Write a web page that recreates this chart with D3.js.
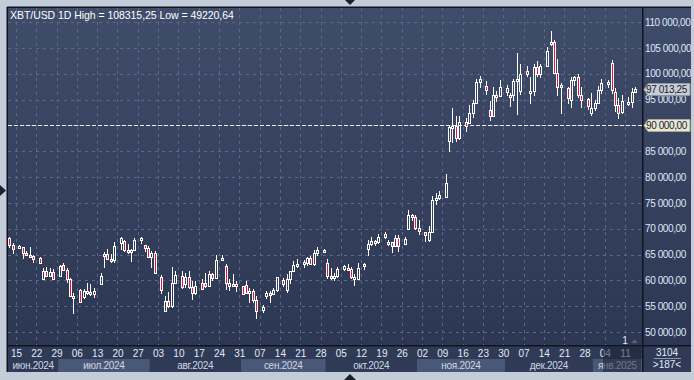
<!DOCTYPE html>
<html><head><meta charset="utf-8">
<script src="https://cdn.jsdelivr.net/npm/d3@7"></script>
<style>
html,body{margin:0;padding:0;background:#c3cdd9;}
svg{display:block;font-family:"Liberation Sans",Arial,sans-serif;}
</style></head>
<body><svg id="chart" width="694" height="380"></svg>
<script>
// ---- DATA: one candle per weekday (Mon..Fri), 13 Jun 2024 .. 15 Jan 2025, prices in thousands USD ----
const firstDay = "2024-06-13", lastDay = "2025-01-15";
const openK = [
68.2,66.8,
66.2,66.5,65.2,64.9,64.8,
64.3,60.3,61.8,60.9,61.6,
60.9,62.9,62.0,60.2,57.0,
58.2,56.7,57.9,57.7,57.3,
59.2,64.8,65.1,64.1,63.9,
67.2,67.6,65.9,65.4,65.8,
68.0,66.8,66.2,64.6,65.3,
60.7,54.0,56.0,55.0,59.5,
60.9,59.3,60.6,58.7,57.5,
59.5,59.4,59.0,61.2,60.4,
64.2,62.8,59.4,59.0,59.3,
58.9,59.1,57.5,58.0,56.2,
54.2,57.0,57.6,57.3,58.1,
60.0,58.2,60.3,61.8,62.9,
63.4,63.3,64.3,63.1,65.2,
65.9,63.3,60.8,60.6,60.8,
62.1,62.3,62.2,60.6,60.3,
63.2,66.0,67.0,67.6,67.4,
68.4,67.4,67.4,66.7,68.2,
67.0,69.9,72.7,72.3,70.2,
69.3,67.8,69.4,75.6,75.9,
76.2,87.0,89.7,89.9,87.6,
90.6,90.5,92.3,94.3,98.3,
97.7,93.0,91.9,95.9,95.6,
96.4,95.9,95.9,98.6,96.6,
100.5,96.2,96.7,101.2,100.0,
101.4,106.1,106.1,100.2,97.5,
97.2,94.9,98.7,99.3,95.8,
95.1,92.4,93.4,94.4,96.9,
98.2,102.1,96.5,93.9,92.5,
94.5,94.5,96.5];
const highK = [
68.4,67.3,
66.9,66.5,65.7,66.4,65.0,
64.5,62.3,62.5,62.3,62.2,
63.0,63.3,62.3,60.5,57.5,
58.3,58.3,59.4,59.3,58.5,
61.4,65.4,66.1,65.1,67.4,
68.4,67.8,67.1,66.1,68.2,
68.3,66.9,66.7,65.6,65.6,
61.1,57.0,57.7,62.6,61.9,
61.8,61.5,61.8,59.8,59.8,
60.2,61.4,61.8,61.4,64.9,
65.0,63.2,60.2,61.2,59.9,
59.0,59.8,58.5,58.3,56.9,
55.3,58.0,57.9,58.6,60.6,
60.4,61.3,61.8,63.8,64.1,
64.0,64.6,64.8,65.8,66.5,
66.0,64.1,62.4,61.5,62.5,
63.0,63.2,62.5,61.3,63.4,
63.3,67.9,68.4,67.9,68.9,
69.4,67.8,67.4,68.8,68.8,
68.3,73.6,72.9,72.7,71.6,
69.4,70.5,76.4,76.9,77.2,
80.6,89.9,93.4,91.8,91.9,
91.5,94.0,94.9,98.9,99.6,
98.6,94.7,97.4,96.6,98.7,
97.9,96.3,99.0,104.0,101.9,
101.4,99.3,101.9,102.5,101.9,
105.2,108.315,106.5,102.8,98.1,
97.4,99.4,99.5,99.9,97.5,
95.2,96.2,94.9,97.7,98.9,
98.8,102.7,97.2,95.3,95.8,
95.4,97.3,97.4];
const lowK = [
66.3,65.1,
66.0,64.1,64.7,64.5,63.4,
63.2,60.2,60.7,60.6,60.0,
60.6,61.8,59.4,56.8,53.5,
55.8,56.3,57.2,57.0,56.6,
59.2,62.4,63.9,63.3,63.3,
65.8,65.5,65.1,63.5,65.8,
67.1,65.4,64.5,62.3,61.2,
57.3,54.0,54.6,54.6,59.3,
58.4,58.5,58.4,56.2,57.1,
58.3,58.6,58.8,59.8,60.4,
63.8,58.1,57.9,58.8,57.8,
57.2,57.4,55.6,55.7,52.5,
53.6,56.4,55.6,57.3,57.7,
58.7,57.6,59.2,61.6,62.4,
62.4,62.7,62.9,62.7,64.8,
65.4,60.2,60.0,59.9,60.5,
61.8,61.8,60.3,58.9,60.0,
62.0,64.8,66.7,66.7,67.1,
68.0,66.6,65.3,66.5,65.5,
66.9,69.7,71.4,69.7,68.8,
67.5,67.5,69.3,74.5,75.6,
76.0,84.9,86.6,86.7,87.1,
88.8,90.4,91.5,94.1,97.2,
95.8,90.8,91.8,94.6,95.4,
95.7,93.6,94.7,92.0,95.8,
99.4,94.2,95.7,99.4,99.2,
101.2,105.3,100.0,95.7,92.2,
94.2,93.4,97.6,95.2,93.3,
93.0,91.8,92.8,94.2,96.0,
97.3,96.1,92.5,91.2,92.2,
93.7,93.4,96.3];
const closeK = [
66.8,66.0,
66.6,65.2,64.9,64.8,64.1,
63.3,61.8,60.9,61.6,60.3,
62.7,62.0,60.2,57.0,56.6,
55.9,57.9,57.7,57.3,57.9,
60.8,65.1,64.1,63.9,66.7,
68.2,65.9,65.4,65.8,67.9,
68.2,66.2,64.6,65.3,61.5,
58.1,56.0,55.1,59.5,61.0,
58.7,60.6,58.7,57.5,58.9,
58.4,59.0,61.2,60.4,64.0,
64.4,59.4,59.0,59.3,59.1,
57.3,57.5,58.0,56.2,54.0,
54.9,57.6,57.3,58.1,60.6,
59.2,60.3,61.8,62.9,63.2,
63.6,64.3,63.1,65.2,65.8,
65.6,60.8,60.6,60.8,62.1,
62.8,62.2,60.6,60.3,62.4,
62.8,67.0,67.6,67.4,68.4,
69.0,67.4,66.7,68.2,66.6,
68.0,72.7,72.3,70.2,69.5,
68.7,69.4,75.6,75.9,76.5,
78.9,89.7,89.9,87.6,90.7,
89.8,92.3,94.3,98.3,98.9,
96.8,91.9,95.9,95.6,97.5,
97.2,95.9,98.6,99.0,99.9,
99.9,96.6,101.2,100.0,101.4,
104.3,106.1,100.2,97.5,97.8,
95.2,98.7,99.3,95.8,94.9,
93.7,93.4,94.4,96.9,98.1,
98.3,96.9,93.9,92.3,94.7,
94.5,96.5,97.01325];

const priceTicksK = [50,55,60,65,70,75,80,85,90,95,100,105,110];
const monthLabels = ["июн.2024","июл.2024","авг.2024","сен.2024","окт.2024","ноя.2024","дек.2024","янв.2025"];
const titleText = "XBT/USD 1D High = 108315,25 Low = 49220,64";
const lastPriceK = 97.01325;
const levelPriceK = 90;
const counterTop = "3104", counterBottom = ">187<";

// ---- SETUP ----
const svg = d3.select("#chart");
const parse = d3.timeParse("%Y-%m-%d");
const dA = parse(firstDay), dB = d3.timeDay.offset(parse(lastDay), 1);
const allDays = d3.timeDay.range(dA, dB);
const slots = allDays.filter(d => d.getDay() !== 0);            // every slot on the time axis (Sat = empty slot)
const tradeDays = allDays.filter(d => d.getDay() >= 1 && d.getDay() <= 5);
const data = tradeDays.map((d, i) => ({d, o: openK[i], h: highK[i], l: lowK[i], c: closeK[i]}));
const saturdays = allDays.filter(d => d.getDay() === 6);

const L = 8, R = 642, T = 8, B = 345;
const x = d3.scalePoint().domain(slots).range([9.2, 635.2]);
const step = x.step();
const y = d3.scaleLinear().domain([50, 110]).range([332, 22]);

const ru = d3.formatLocale({decimal: ",", thousands: "\u00a0", grouping: [3], currency: ["", ""]});
const fmtPrice = v => ru.format(",.2f")(v * 1000);

const defs = svg.append("defs");
const g1 = defs.append("linearGradient").attr("id", "bg").attr("x1", 0).attr("y1", 0).attr("x2", 0).attr("y2", 1);
g1.append("stop").attr("offset", "0%").attr("stop-color", "#3f4c6a");
g1.append("stop").attr("offset", "100%").attr("stop-color", "#2c3753");

// frame
svg.append("rect").attr("width", 694).attr("height", 380).attr("fill", "#c3cdd9");
svg.append("rect").attr("x", L).attr("y", T).attr("width", R - L).attr("height", B - T).attr("fill", "url(#bg)");
svg.append("rect").attr("x", R + 1).attr("y", T).attr("width", 691 - R - 1).attr("height", B - T).attr("fill", "url(#bg)");
svg.append("rect").attr("x", L).attr("y", B + 1).attr("width", 691 - L).attr("height", 372 - B - 1).attr("fill", "#2e3a56");

// grid
const grid = svg.append("g").attr("stroke", "#5b6989").attr("stroke-width", 1).attr("stroke-dasharray", "3,4");
grid.selectAll(".vg").data(saturdays).join("line")
  .attr("x1", d => Math.round(x(d)) + 0.5).attr("x2", d => Math.round(x(d)) + 0.5)
  .attr("y1", T).attr("y2", B);
grid.selectAll(".hg").data(priceTicksK).join("line")
  .attr("x1", L).attr("x2", R)
  .attr("y1", d => Math.round(y(d)) + 0.5).attr("y2", d => Math.round(y(d)) + 0.5);

// 90 000 level line
svg.append("line").attr("x1", L).attr("x2", R)
  .attr("y1", Math.round(y(levelPriceK)) + 0.5).attr("y2", Math.round(y(levelPriceK)) + 0.5)
  .attr("stroke", "#eeeeee").attr("stroke-width", 1).attr("stroke-dasharray", "4,2");

// candles
const cg = svg.append("g");
data.forEach(p => {
  const cx = Math.round(x(p.d));
  const top = Math.round(y(Math.max(p.o, p.c)));
  let bot = Math.round(y(Math.min(p.o, p.c)));
  if (bot - top < 2) bot = top + 2;
  const hi = Math.round(y(p.h)), lo = Math.round(y(p.l));
  const up = p.c >= p.o;
  if (hi < top) cg.append("line").attr("x1", cx + 0.5).attr("x2", cx + 0.5).attr("y1", hi).attr("y2", top).attr("stroke", "#ffffff");
  if (lo > bot) cg.append("line").attr("x1", cx + 0.5).attr("x2", cx + 0.5).attr("y1", bot).attr("y2", lo).attr("stroke", "#ffffff");
  cg.append("rect").attr("x", cx - 1 + 0.5).attr("y", top + 0.5).attr("width", 2).attr("height", bot - top)
    .attr("fill", up ? "none" : "#e3143e").attr("stroke", "#ffffff").attr("stroke-width", 1);
});

// borders
const bl = svg.append("g").attr("stroke", "#10141c").attr("stroke-width", 1.5);
bl.append("line").attr("x1", 7.25).attr("x2", 7.25).attr("y1", 7).attr("y2", 372);
bl.append("line").attr("x1", 7).attr("x2", 691).attr("y1", 7.25).attr("y2", 7.25);
bl.append("line").attr("x1", 8).attr("x2", 691).attr("y1", B + 0.75).attr("y2", B + 0.75);
bl.append("line").attr("x1", R + 0.75).attr("x2", R + 0.75).attr("y1", T).attr("y2", 372);

// title
svg.append("text").attr("x", 10).attr("y", 18.5).attr("fill", "#ffffff").attr("font-size", 10.5)
  .attr("letter-spacing", "-0.05").text(titleText);

// right axis
const yAxis = svg.append("g").attr("transform", `translate(${R},0)`)
  .call(d3.axisRight(y).tickValues(priceTicksK).tickSize(0).tickPadding(3).tickFormat(fmtPrice));
yAxis.select(".domain").remove();
yAxis.selectAll("text").attr("fill", "#dfe8f8").attr("font-size", 10).attr("letter-spacing", "-0.4")
  .attr("font-family", "Liberation Sans, Arial, sans-serif");

// price markers
function marker(v, fill, stroke) {
  const yy = Math.round(y(v)) + 0.5;
  const g = svg.append("g");
  g.append("path").attr("d", `M${R + 2},${yy} L${R + 6},${yy - 6} L690,${yy - 6} L690,${yy + 6} L${R + 6},${yy + 6} Z`)
    .attr("fill", fill).attr("stroke", stroke).attr("stroke-width", 1);
  g.append("text").attr("x", R + 4).attr("y", yy + 3.6).attr("fill", "#1b2233").attr("font-size", 10)
    .attr("letter-spacing", "-0.4").text(fmtPrice(v));
}
marker(lastPriceK, "#c9ced6", "#8d96a6");
marker(levelPriceK, "#e7e7d3", "#a9a98f");

// month bands + labels
const months = d3.timeMonth.range(d3.timeMonth.floor(dA), dB);
const firstSlotOf = m => slots.find(s => s >= m);
const mg = svg.append("g");
months.forEach((m, i) => {
  const s0 = firstSlotOf(m);
  const nm = d3.timeMonth.offset(m, 1);
  const s1 = firstSlotOf(nm);
  const a = Math.max(L, x(s0) - step / 2);
  const b = s1 ? Math.min(R, x(s1) - step / 2) : R;
  if (i % 2 === 1) mg.append("rect").attr("x", a).attr("y", 359).attr("width", b - a).attr("height", 13).attr("fill", "#4a5877");
  mg.append("text").attr("x", (a + b) / 2).attr("y", 368.5).attr("text-anchor", "middle")
    .attr("fill", "#cfd7e4").attr("font-size", 10).attr("letter-spacing", "-0.3").text(monthLabels[i]);
});

// date axis
const xAxis = svg.append("g").attr("transform", `translate(0,${B + 1})`)
  .call(d3.axisBottom(x).tickValues(saturdays).tickSize(0).tickPadding(4).tickFormat(d3.timeFormat("%d")));
xAxis.select(".domain").remove();
xAxis.selectAll("text").attr("fill", "#e2e9f6").attr("font-size", 10).attr("font-family", "Liberation Sans, Arial, sans-serif");

// dark overlay on the latest part of the date axis
svg.append("rect").attr("x", 603).attr("y", 347).attr("width", 38).attr("height", 25)
  .attr("fill", "#1c2438").attr("opacity", 0.55);

// "1" marker
svg.append("text").attr("x", 625).attr("y", 344).attr("text-anchor", "middle").attr("fill", "#dfe6f2").attr("font-size", 10).text("1");
svg.append("path").attr("d", "M631,343 L634.5,339.5 L638,343 Z").attr("fill", "#56627c");

// counter box
svg.append("text").attr("x", 667).attr("y", 356).attr("text-anchor", "middle").attr("fill", "#e2e9f6").attr("font-size", 10).text(counterTop);
svg.append("line").attr("x1", 654).attr("x2", 681).attr("y1", 358.5).attr("y2", 358.5).attr("stroke", "#8a96ad");
svg.append("text").attr("x", 667).attr("y", 368).attr("text-anchor", "middle").attr("fill", "#e2e9f6").attr("font-size", 10).text(counterBottom);

// frame triangles
svg.append("path").attr("d", "M345,0 L355,0 L350,5 Z").attr("fill", "#1a2030");
svg.append("path").attr("d", "M344,380 L356,380 L350,374 Z").attr("fill", "#1a2030");
svg.append("path").attr("d", "M0,185 L6,190.5 L0,196 Z").attr("fill", "#1a2030");
</script></body></html>
